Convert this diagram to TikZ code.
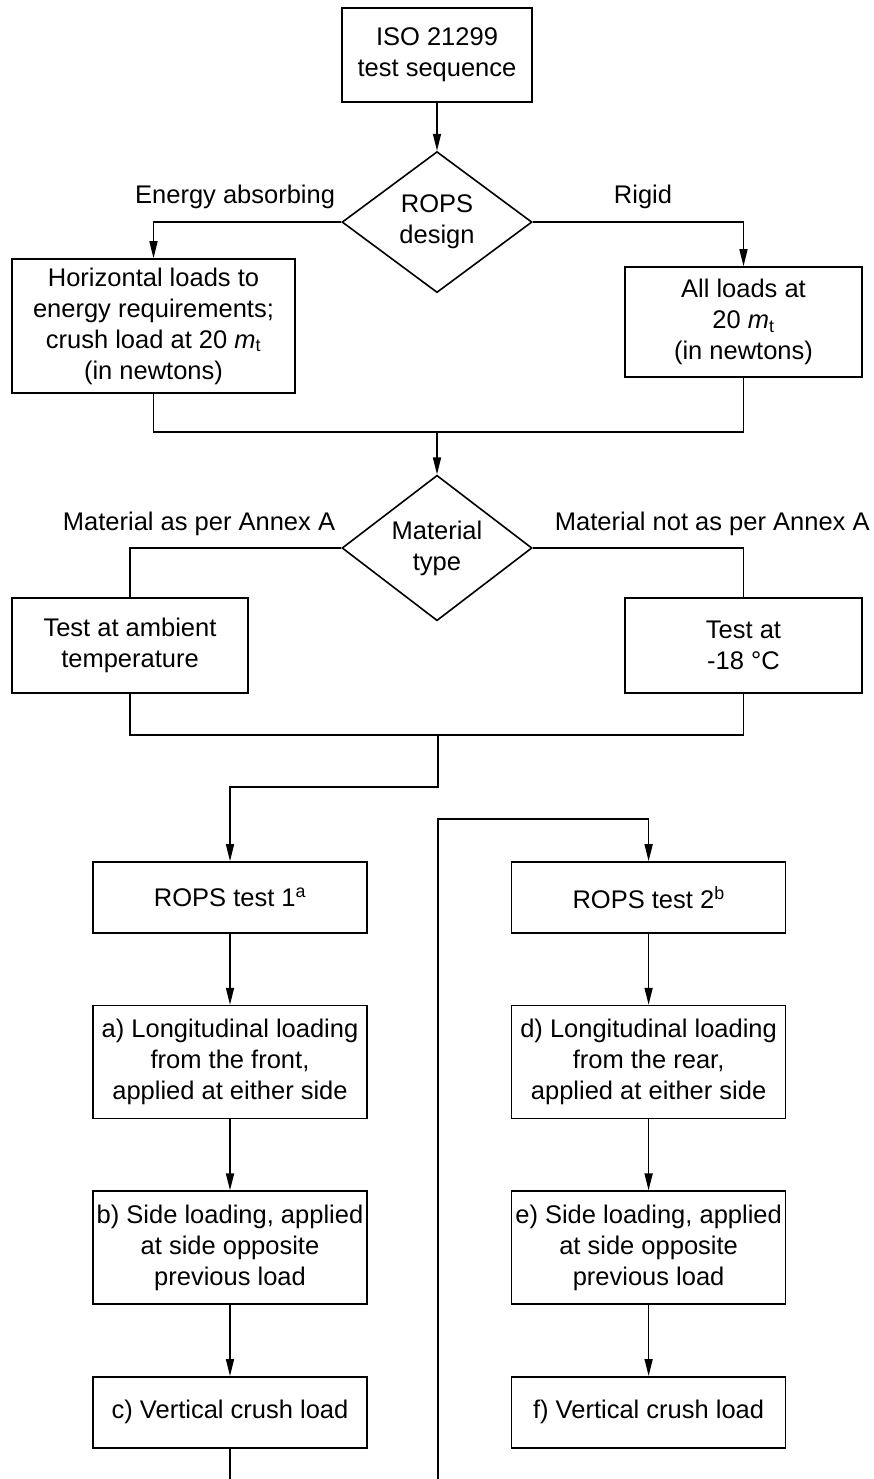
\documentclass[tikz,border=0pt]{standalone}
\usepackage{fontspec}
\setmainfont{Liberation Sans}
\usetikzlibrary {positioning}
\usetikzlibrary {shapes.geometric}
\usetikzlibrary {arrows.meta}

\begin{document}
\begin{tikzpicture}
	[x=1pt,y=-1pt,align=center,node distance=71pt,line width=1.6pt,>={Triangle[length=17pt,width=8pt]},font=\fontsize{25.5}{31}\selectfont,
	proc/.style={rectangle,draw,inner sep=0pt,minimum width=274pt,minimum height=71pt},
	choice/.style={diamond,draw,inner sep=0pt,minimum width=190pt,minimum height=141pt},
	branchlabel/.style={anchor=base east},branchlabelr/.style={anchor=base west}]
	\useasboundingbox (0,0) rectangle (874,1479);
	\node[proc,minimum width=190pt,minimum height=94pt] (start) at (437,55) {ISO 21299\\test sequence};
	\node[choice] (design) [below=48pt of start] {ROPS\\design};
	\node[proc,minimum width=283pt,minimum height=134pt] (energy) at (153.5,326) {Horizontal loads to\\energy requirements;\\crush load at 20 \textit{m}\textsubscript{t}\\(in newtons)};
	\node[proc,minimum width=237pt,minimum height=110pt] (rigid) at (743.5,322) {All loads at\\20 \textit{m}\textsubscript{t}\\(in newtons)};
	\node[branchlabel] (energylab) at ([xshift=-2pt,yshift=19pt]design.west) {Energy absorbing};
	\node[branchlabelr] (rigidlab) at ([xshift=77pt,yshift=19pt]design.east) {Rigid};
	\coordinate (join1) at (437,432);
	\node[choice,minimum height=136pt] (material) at (437,548) {Material\\type};
	\node[proc,minimum width=236pt,minimum height=95pt] (ambient) at (130,645.5) {Test at ambient\\temperature};
	\node[proc,minimum width=237pt,minimum height=95pt] (cold) at (743.5,645.5) {Test at\\-18 °C};
	\node[branchlabel] (annexlab) at ([xshift=-2pt,yshift=18pt]material.west) {Material as per Annex A};
	\node[branchlabelr] (notannexlab) at ([xshift=18pt,yshift=18pt]material.east) {Material not as per Annex A};
	\coordinate (join2) at (438,735);
	\coordinate (split1) at (438,787);
	\coordinate (split2) at (438,819);
	\coordinate (feed2) at (438,1479);
	\node[proc] (test1) at (230,897.5) {ROPS test 1\textsuperscript{a}};
	\node[proc,minimum height=113pt] (loadA) [below=of test1] {a) Longitudinal loading\\from the front,\\applied at either side};
	\node[proc,minimum height=113pt] (loadB) [below=of loadA] {b) Side loading, applied\\at side opposite\\previous load};
	\node[proc] (loadC) [below=of loadB] {c) Vertical crush load};
	\node[proc] (test2) [right=143pt of test1] {ROPS test 2\textsuperscript{b}};
	\node[proc,minimum height=113pt] (loadD) [below=of test2] {d) Longitudinal loading\\from the rear,\\applied at either side};
	\node[proc,minimum height=113pt] (loadE) [below=of loadD] {e) Side loading, applied\\at side opposite\\previous load};
	\node[proc] (loadF) [below=of loadE] {f) Vertical crush load};
	\coordinate (end1) at (loadC.south |- feed2);
	\draw [->] (start) -- (design);
	\draw [->] (design.west) -| (energy.north);
	\draw [->] (design.east) -| (rigid.north);
	\draw (energy.south) |- (join1) -| (rigid.south);
	\draw [->] (join1) -- (material);
	\draw (material.west) -| (ambient.north);
	\draw (material.east) -| (cold.north);
	\draw (ambient.south) |- (join2) -| (cold.south);
	\draw [->] (join2) -- (split1) -| (test1.north);
	\draw [->] (feed2) -- (split2) -| (test2.north);
	\draw [->] (test1) -- (loadA);
	\draw [->] (loadA) -- (loadB);
	\draw [->] (loadB) -- (loadC);
	\draw (loadC) -- (end1);
	\draw [->] (test2) -- (loadD);
	\draw [->] (loadD) -- (loadE);
	\draw [->] (loadE) -- (loadF);
\end{tikzpicture}
\end{document}
